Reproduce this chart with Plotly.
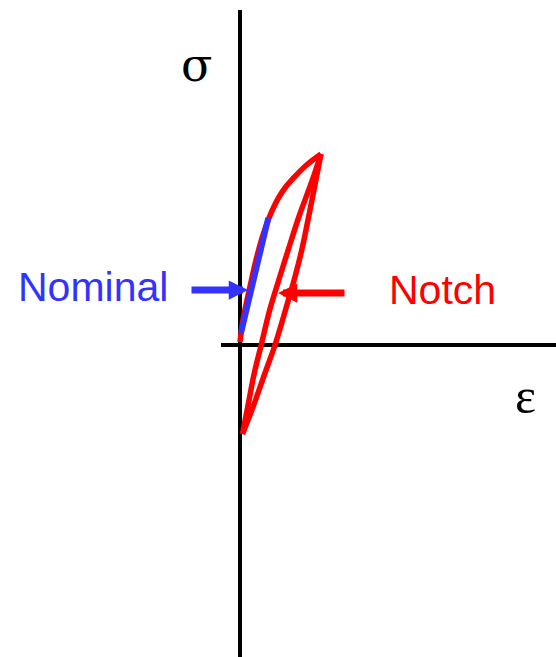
import plotly.graph_objects as go

# Cyclic stress-strain at the notch root: initial loading, unloading, reloading
load_strain = [0.00, 0.03, 0.07, 0.11, 0.16, 0.22, 0.29, 0.34, 0.39, 0.46, 0.53, 0.66, 0.81]
load_stress = [0.03, 0.25, 0.45, 0.63, 0.85, 1.07, 1.27, 1.385, 1.48, 1.585, 1.665, 1.795, 1.91]

unload_strain = [0.81, 0.757, 0.69, 0.622, 0.555, 0.455, 0.35, 0.25, 0.13, 0.025]
unload_stress = [1.91, 1.64, 1.30, 0.97, 0.70, 0.35, 0.00, -0.28, -0.62, -0.89]

reload_strain = [0.025, 0.077, 0.143, 0.212, 0.297, 0.385, 0.488, 0.595, 0.72, 0.81]
reload_stress = [-0.89, -0.62, -0.28, 0.00, 0.35, 0.64, 0.97, 1.30, 1.64, 1.91]

# Nominal (elastic) response
nominal_strain = [0.01, 0.283]
nominal_stress = [0.12, 1.27]

RED = "#ff0000"
BLUE = "#3333ff"

fig = go.Figure()

for xs, ys in [(load_strain, load_stress),
               (unload_strain, unload_stress),
               (reload_strain, reload_stress)]:
    fig.add_trace(go.Scatter(x=xs, y=ys, mode="lines",
                             line=dict(color=RED, width=5.5, shape="spline", smoothing=1.0),
                             hoverinfo="skip", showlegend=False))

fig.add_trace(go.Scatter(x=nominal_strain, y=nominal_stress, mode="lines",
                         line=dict(color=BLUE, width=6),
                         hoverinfo="skip", showlegend=False))

# Axes drawn as plain lines through the origin
fig.add_shape(type="line", x0=0, x1=0, y0=-3.2, y1=3.35,
              line=dict(color="black", width=4), layer="below")
fig.add_shape(type="line", x0=-0.19, x1=3.2, y0=0, y1=0,
              line=dict(color="black", width=4), layer="below")

serif = "Liberation Serif, Times New Roman, serif"
sans = "Liberation Sans, Arial, sans-serif"

fig.add_annotation(x=-0.44, y=2.80, text="σ", showarrow=False,
                   font=dict(family="DejaVu Serif, serif", size=46, color="black"))
fig.add_annotation(x=2.855, y=-0.51, text="ε", showarrow=False,
                   font=dict(family=serif, size=50, color="black"))

fig.add_annotation(x=-1.475, y=0.58, text="Nominal", showarrow=False,
                   font=dict(family=sans, size=41, color=BLUE))
fig.add_annotation(x=2.02, y=0.555, text="Notch", showarrow=False,
                   font=dict(family=sans, size=41, color=RED))

# Pointer arrows
fig.add_annotation(x=0.08, y=0.55, ax=-0.50, ay=0.55, axref="x", ayref="y",
                   xref="x", yref="y", text="", showarrow=True,
                   arrowhead=2, arrowsize=0.55, arrowwidth=7, arrowcolor=BLUE)
fig.add_annotation(x=0.38, y=0.52, ax=1.06, ay=0.52, axref="x", ayref="y",
                   xref="x", yref="y", text="", showarrow=True,
                   arrowhead=2, arrowsize=0.55, arrowwidth=7, arrowcolor=RED)

fig.update_layout(
    width=556, height=657,
    margin=dict(l=0, r=0, t=0, b=0),
    paper_bgcolor="white", plot_bgcolor="white",
    xaxis=dict(range=[-2.40, 3.16], visible=False, fixedrange=True),
    yaxis=dict(range=[-3.12, 3.45], visible=False, fixedrange=True),
)

fig.write_html("out.html")
